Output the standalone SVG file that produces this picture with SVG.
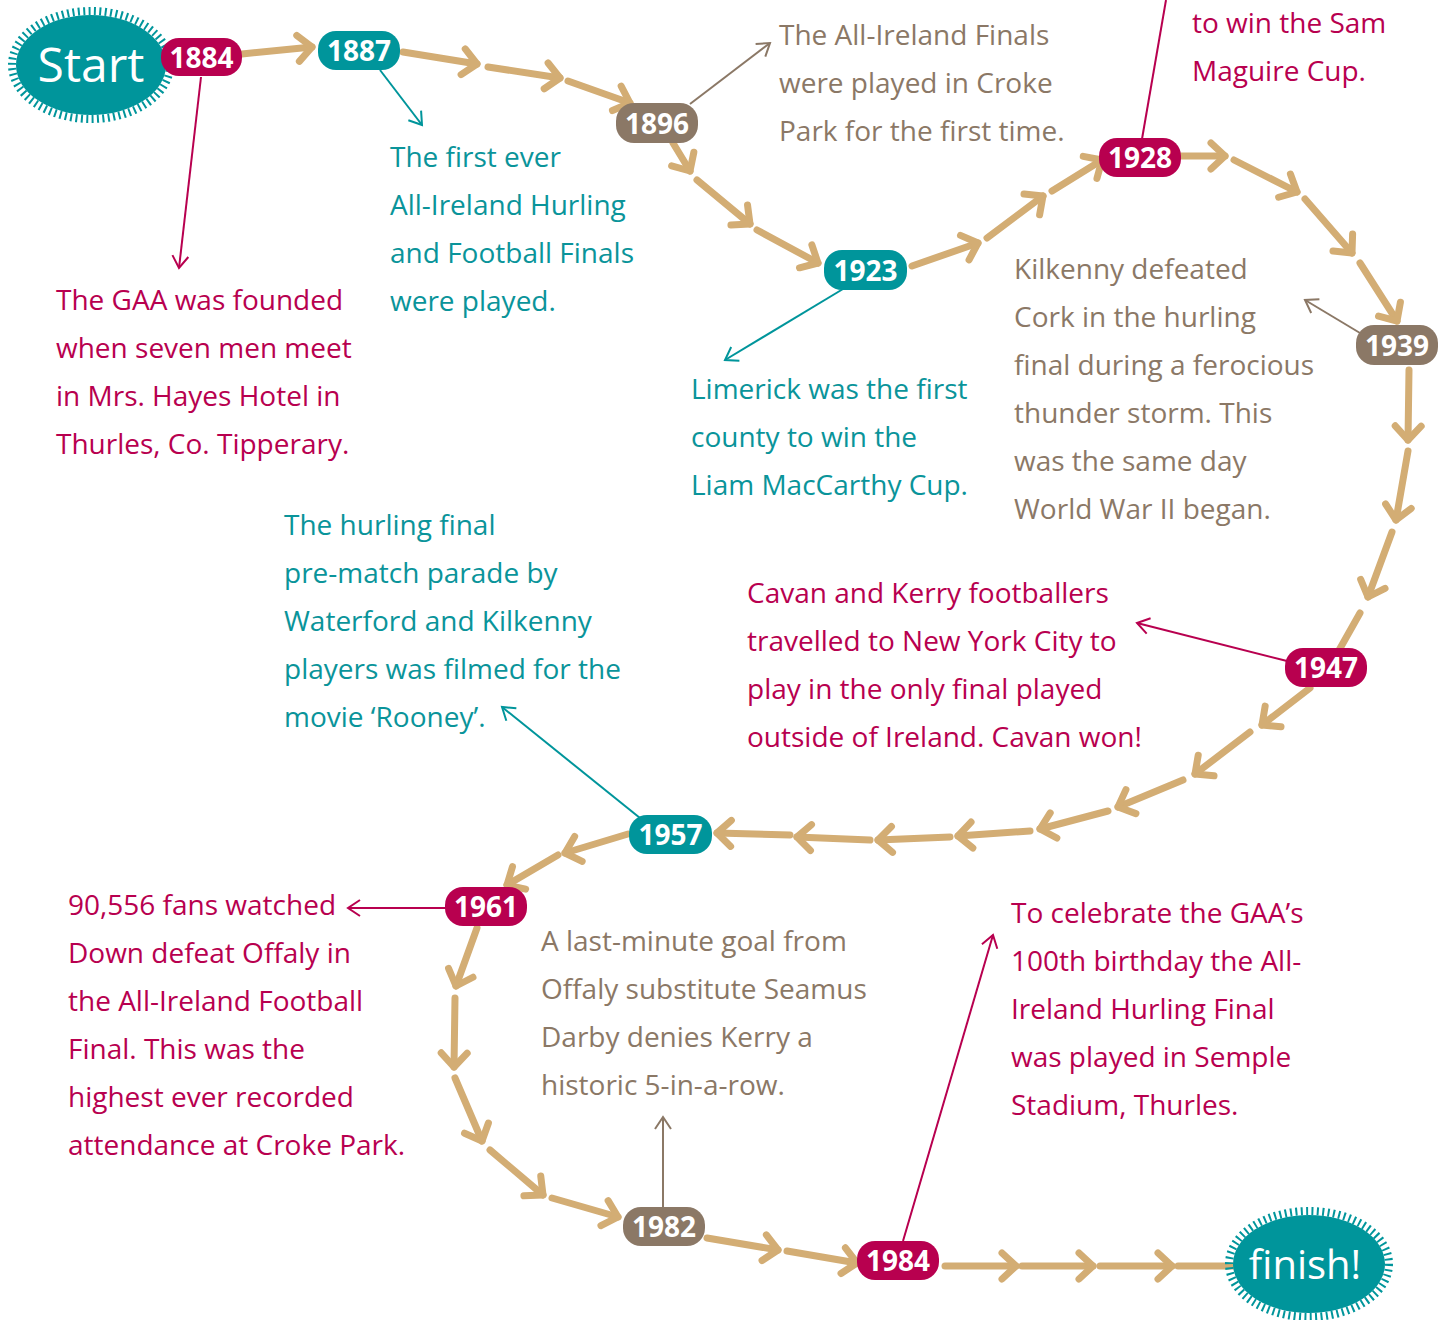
<svg xmlns="http://www.w3.org/2000/svg" width="1448" height="1320" viewBox="0 0 1448 1320">
<defs>
<style>
.trk{stroke:#d3ad74;stroke-width:7;stroke-linecap:round;fill:none}
.trk.m{marker-end:url(#chev)}
.ptr{stroke-width:2;fill:none}
.pt{stroke:#00959b}.pc{stroke:#b8004f}.pb{stroke:#8b7866}
.txt{font-family:"Open Sans","Noto Sans",sans-serif;font-size:28px}
.tt{fill:#0a949a}.tc{fill:#b8004f}.tb{fill:#8b7866}
.yr{font-family:"Open Sans","Noto Sans",sans-serif;font-size:28px;font-weight:bold;fill:#fff;text-anchor:middle}
.bt{fill:#00959b}.bc{fill:#b8004f}.bb{fill:#8b7866}
.tick{fill:none;stroke:#00959b;stroke-width:8;stroke-dasharray:2 3.4}
</style>
<marker id="chev" markerUnits="userSpaceOnUse" markerWidth="40" markerHeight="40" viewBox="-20 -20 40 40" refX="0" refY="0" orient="auto" overflow="visible">
<path d="M-14,-13 L0,0 L-14,13" fill="none" stroke="#d3ad74" stroke-width="7" stroke-linecap="round" stroke-linejoin="round"/>
</marker>
<marker id="at" markerUnits="userSpaceOnUse" markerWidth="30" markerHeight="30" viewBox="-15 -15 30 30" refX="0" refY="0" orient="auto" overflow="visible">
<path d="M-12,-8 L0,0 L-12,8" fill="none" stroke="#00959b" stroke-width="2"/>
</marker>
<marker id="ac" markerUnits="userSpaceOnUse" markerWidth="30" markerHeight="30" viewBox="-15 -15 30 30" refX="0" refY="0" orient="auto" overflow="visible">
<path d="M-12,-8 L0,0 L-12,8" fill="none" stroke="#b8004f" stroke-width="2"/>
</marker>
<marker id="ab" markerUnits="userSpaceOnUse" markerWidth="30" markerHeight="30" viewBox="-15 -15 30 30" refX="0" refY="0" orient="auto" overflow="visible">
<path d="M-12,-8 L0,0 L-12,8" fill="none" stroke="#8b7866" stroke-width="2"/>
</marker>
</defs>
<rect width="1448" height="1320" fill="#fff"/>
<g id="connectors">
<g id="track">
<line class="trk m" x1="242" y1="54" x2="312" y2="47"/>
<line class="trk m" x1="403" y1="52" x2="477" y2="64"/>
<line class="trk m" x1="488" y1="67" x2="560" y2="78"/>
<line class="trk m" x1="568" y1="81" x2="630" y2="103"/>
<line class="trk m" x1="673" y1="143" x2="690" y2="171"/>
<line class="trk m" x1="697" y1="180" x2="750" y2="224"/>
<line class="trk m" x1="757" y1="230" x2="818" y2="263"/>
<line class="trk m" x1="912" y1="266" x2="978" y2="243"/>
<line class="trk m" x1="987" y1="238" x2="1043" y2="196"/>
<line class="trk m" x1="1052" y1="191" x2="1102" y2="160"/>
<line class="trk m" x1="1181" y1="156" x2="1225" y2="156"/>
<line class="trk m" x1="1234" y1="160" x2="1297" y2="192"/>
<line class="trk m" x1="1305" y1="199" x2="1352" y2="253"/>
<line class="trk m" x1="1360" y1="263" x2="1397" y2="321"/>
<line class="trk m" x1="1409" y1="370" x2="1408" y2="440"/>
<line class="trk m" x1="1408" y1="451" x2="1396" y2="520"/>
<line class="trk m" x1="1392" y1="532" x2="1368" y2="597"/>
<line class="trk" x1="1360" y1="613" x2="1338" y2="652"/>
<line class="trk m" x1="1310" y1="688" x2="1262" y2="725"/>
<line class="trk m" x1="1250" y1="732" x2="1195" y2="774"/>
<line class="trk m" x1="1183" y1="780" x2="1118" y2="807"/>
<line class="trk m" x1="1108" y1="811" x2="1040" y2="829"/>
<line class="trk m" x1="1030" y1="831" x2="958" y2="836"/>
<line class="trk m" x1="950" y1="837" x2="878" y2="840"/>
<line class="trk m" x1="870" y1="840" x2="797" y2="837"/>
<line class="trk m" x1="790" y1="835" x2="717" y2="833"/>
<line class="trk m" x1="628" y1="834" x2="565" y2="853"/>
<line class="trk m" x1="558" y1="855" x2="507" y2="885"/>
<line class="trk m" x1="477" y1="928" x2="456" y2="986"/>
<line class="trk m" x1="455" y1="998" x2="454" y2="1067"/>
<line class="trk m" x1="455" y1="1078" x2="482" y2="1141"/>
<line class="trk m" x1="490" y1="1150" x2="543" y2="1195"/>
<line class="trk m" x1="552" y1="1198" x2="618" y2="1217"/>
<line class="trk m" x1="707" y1="1238" x2="778" y2="1250"/>
<line class="trk m" x1="787" y1="1251" x2="857" y2="1263"/>
<line class="trk m" x1="945" y1="1266" x2="1016" y2="1266"/>
<line class="trk m" x1="1022" y1="1266" x2="1093" y2="1266"/>
<line class="trk m" x1="1100" y1="1266" x2="1172" y2="1266"/>
<line class="trk" x1="1178" y1="1266" x2="1234" y2="1266"/>
</g>
<g id="pointers">
<line class="ptr pc" x1="201" y1="77" x2="179" y2="268" marker-end="url(#ac)"/>
<line class="ptr pt" x1="380" y1="70" x2="422" y2="125" marker-end="url(#at)"/>
<line class="ptr pb" x1="690" y1="104" x2="770" y2="43" marker-end="url(#ab)"/>
<line class="ptr pt" x1="843" y1="289" x2="725" y2="360" marker-end="url(#at)"/>
<line class="ptr pc" x1="1142" y1="139" x2="1166" y2="0"/>
<line class="ptr pb" x1="1360" y1="333" x2="1305" y2="300" marker-end="url(#ab)"/>
<line class="ptr pc" x1="1287" y1="661" x2="1137" y2="623" marker-end="url(#ac)"/>
<line class="ptr pt" x1="640" y1="818" x2="502" y2="707" marker-end="url(#at)"/>
<line class="ptr pc" x1="446" y1="908" x2="348" y2="908" marker-end="url(#ac)"/>
<line class="ptr pb" x1="663" y1="1207" x2="663" y2="1117" marker-end="url(#ab)"/>
<line class="ptr pc" x1="903" y1="1241" x2="993" y2="935" marker-end="url(#ac)"/>
</g>
</g>
<g id="start">
<ellipse class="tick" cx="91" cy="65" rx="79" ry="54"/>
<ellipse cx="91" cy="65" rx="75" ry="50" fill="#00959b"/>
<text x="91" y="82" font-family="'Open Sans','Noto Sans',sans-serif" font-size="48" fill="#fff" text-anchor="middle">Start</text>
</g>
<g id="finish">
<ellipse class="tick" cx="1309" cy="1264" rx="80" ry="53"/>
<ellipse cx="1309" cy="1264" rx="76" ry="49" fill="#00959b"/>
<text x="1305" y="1279" font-family="'Open Sans','Noto Sans',sans-serif" font-size="40" fill="#fff" text-anchor="middle">finish!</text>
</g>
<g id="n1884"><rect class="bc" x="161" y="38" width="81" height="38" rx="18"/><text class="yr" x="201.5" y="68">1884</text></g>
<g id="n1887"><rect class="bt" x="318" y="31" width="82" height="39" rx="18"/><text class="yr" x="359" y="61">1887</text></g>
<g id="n1896"><rect class="bb" x="616" y="103" width="82" height="40" rx="18"/><text class="yr" x="657" y="134">1896</text></g>
<g id="n1923"><rect class="bt" x="824" y="250" width="83" height="40" rx="18"/><text class="yr" x="865.5" y="281">1923</text></g>
<g id="n1928"><rect class="bc" x="1099" y="138" width="82" height="39" rx="18"/><text class="yr" x="1140" y="168">1928</text></g>
<g id="n1939"><rect class="bb" x="1356" y="325" width="82" height="40" rx="18"/><text class="yr" x="1397" y="356">1939</text></g>
<g id="n1947"><rect class="bc" x="1285" y="648" width="82" height="39" rx="18"/><text class="yr" x="1326" y="678">1947</text></g>
<g id="n1957"><rect class="bt" x="629" y="815" width="83" height="39" rx="18"/><text class="yr" x="670.5" y="845">1957</text></g>
<g id="n1961"><rect class="bc" x="445" y="887" width="82" height="39" rx="18"/><text class="yr" x="486" y="917">1961</text></g>
<g id="n1982"><rect class="bb" x="623" y="1207" width="82" height="39" rx="18"/><text class="yr" x="664" y="1237">1982</text></g>
<g id="n1984"><rect class="bc" x="857" y="1241" width="82" height="39" rx="18"/><text class="yr" x="898" y="1271">1984</text></g>
<g id="t1884" class="txt tc">
<text x="56" y="310">The GAA was founded</text>
<text x="56" y="358">when seven men meet</text>
<text x="56" y="406">in Mrs. Hayes Hotel in</text>
<text x="56" y="454">Thurles, Co. Tipperary.</text>
</g>
<g id="t1887" class="txt tt">
<text x="390" y="167">The first ever</text>
<text x="390" y="215">All-Ireland Hurling</text>
<text x="390" y="263">and Football Finals</text>
<text x="390" y="311">were played.</text>
</g>
<g id="t1896" class="txt tb">
<text x="779" y="45">The All-Ireland Finals</text>
<text x="779" y="93">were played in Croke</text>
<text x="779" y="141">Park for the first time.</text>
</g>
<g id="t1928" class="txt tc">
<text x="1192" y="33">to win the Sam</text>
<text x="1192" y="81">Maguire Cup.</text>
</g>
<g id="t1923" class="txt tt">
<text x="691" y="399">Limerick was the first</text>
<text x="691" y="447">county to win the</text>
<text x="691" y="495">Liam MacCarthy Cup.</text>
</g>
<g id="t1939" class="txt tb">
<text x="1014" y="279">Kilkenny defeated</text>
<text x="1014" y="327">Cork in the hurling</text>
<text x="1014" y="375">final during a ferocious</text>
<text x="1014" y="423">thunder storm. This</text>
<text x="1014" y="471">was the same day</text>
<text x="1014" y="519">World War II began.</text>
</g>
<g id="t1947" class="txt tc">
<text x="747" y="603">Cavan and Kerry footballers</text>
<text x="747" y="651">travelled to New York City to</text>
<text x="747" y="699">play in the only final played</text>
<text x="747" y="747">outside of Ireland. Cavan won!</text>
</g>
<g id="t1957" class="txt tt">
<text x="284" y="535">The hurling final</text>
<text x="284" y="583">pre-match parade by</text>
<text x="284" y="631">Waterford and Kilkenny</text>
<text x="284" y="679">players was filmed for the</text>
<text x="284" y="727">movie ‘Rooney’.</text>
</g>
<g id="t1961" class="txt tc">
<text x="68" y="915">90,556 fans watched</text>
<text x="68" y="963">Down defeat Offaly in</text>
<text x="68" y="1011">the All-Ireland Football</text>
<text x="68" y="1059">Final. This was the</text>
<text x="68" y="1107">highest ever recorded</text>
<text x="68" y="1155">attendance at Croke Park.</text>
</g>
<g id="t1982" class="txt tb">
<text x="541" y="951">A last-minute goal from</text>
<text x="541" y="999">Offaly substitute Seamus</text>
<text x="541" y="1047">Darby denies Kerry a</text>
<text x="541" y="1095">historic 5-in-a-row.</text>
</g>
<g id="t1984" class="txt tc">
<text x="1011" y="923">To celebrate the GAA’s</text>
<text x="1011" y="971">100th birthday the All-</text>
<text x="1011" y="1019">Ireland Hurling Final</text>
<text x="1011" y="1067">was played in Semple</text>
<text x="1011" y="1115">Stadium, Thurles.</text>
</g>
</svg>
